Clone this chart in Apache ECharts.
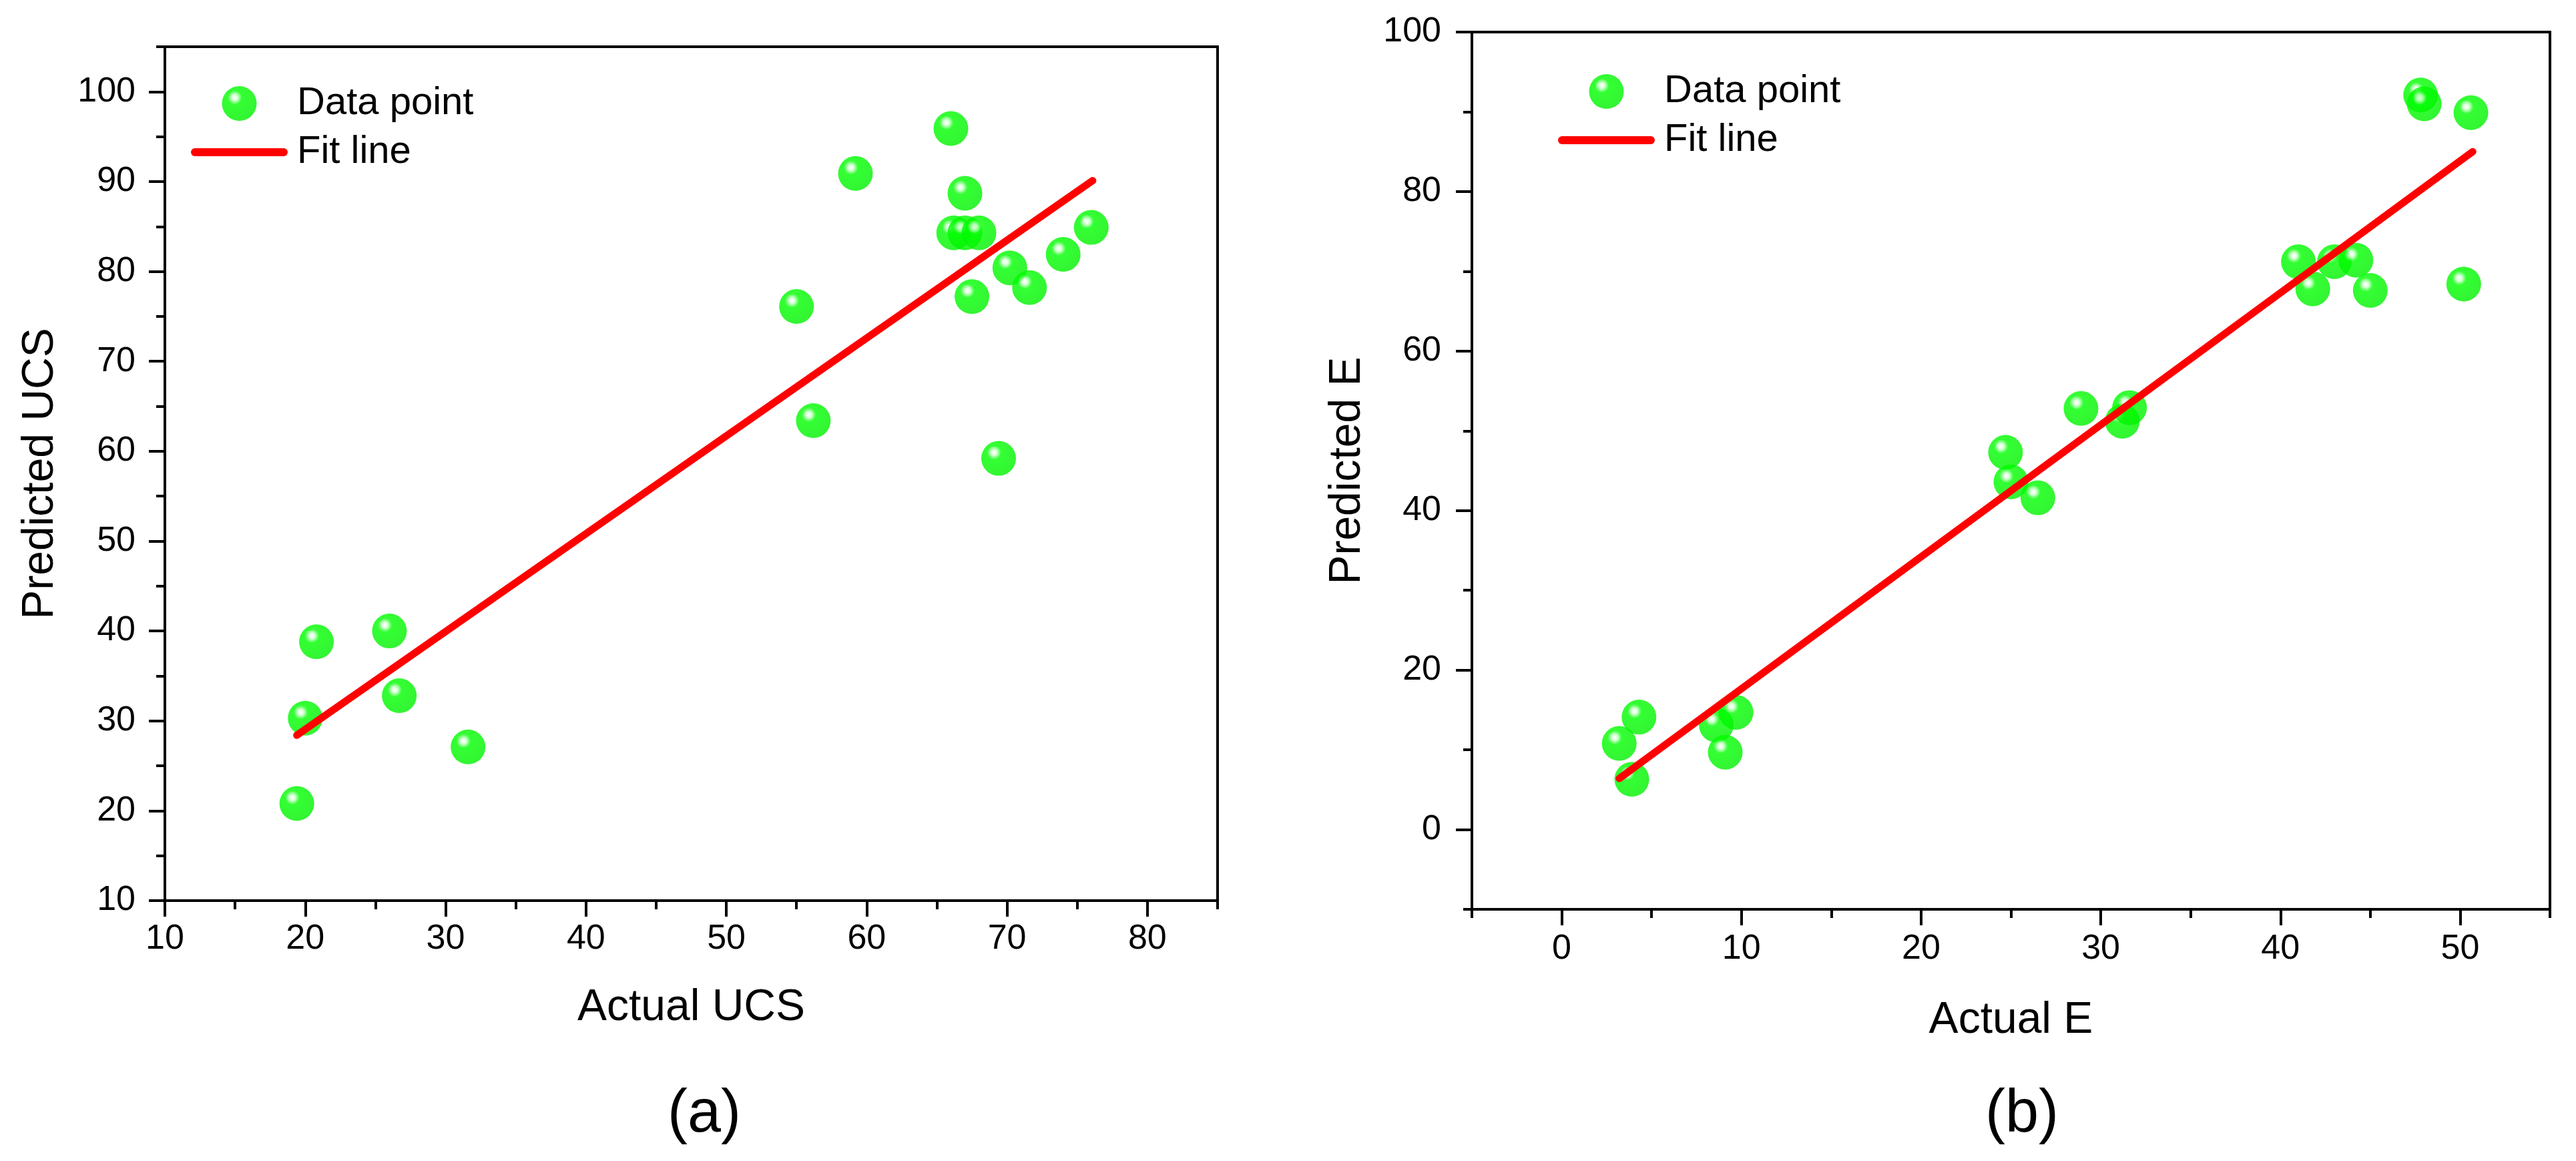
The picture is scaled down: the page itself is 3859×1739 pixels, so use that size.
<!DOCTYPE html>
<html>
<head>
<meta charset="utf-8">
<script src="https://cdn.jsdelivr.net/npm/echarts@6/dist/echarts.min.js"></script>
<style>
  html, body { margin: 0; padding: 0; background: #fff; }
  #chart { width: 3859px; height: 1739px; }
</style>
</head>
<body>
<div id="chart"></div>
<script>
// (a) UCS
const ucsActual    = [19.4, 20.0, 20.8, 26.0, 26.7, 31.6, 55.0, 56.2, 59.2, 66.0, 67.0, 66.2, 67.0, 68.0, 67.5, 69.4, 70.2, 71.6, 74.0, 76.0];
const ucsPredicted = [20.8, 30.3, 38.8, 40.0, 32.8, 27.1, 76.1, 63.4, 90.9, 95.9, 88.7, 84.3, 84.3, 84.3, 77.2, 59.2, 80.4, 78.2, 81.9, 84.9];
const ucsFitX = [19.4, 76.1];
const ucsFitY = [28.4, 90.1];

// (b) E
const eActual    = [3.2, 3.9, 4.3, 8.6, 9.1, 9.7, 24.7, 25.0, 26.5, 28.9, 31.2, 31.6, 41.0, 41.8, 43.0, 44.2, 45.0, 47.8, 48.0, 50.6, 50.2];
const ePredicted = [10.8, 6.3, 14.1, 13.1, 9.7, 14.7, 47.3, 43.6, 41.6, 52.8, 51.2, 52.9, 71.2, 67.8, 71.2, 71.4, 67.6, 92.1, 91.0, 89.9, 68.4];
const eFitX = [3.2, 50.7];
const eFitY = [6.4, 85.0];

// tick labels
const ucsXTicks = [10, 20, 30, 40, 50, 60, 70, 80];
const ucsYTicks = [10, 20, 30, 40, 50, 60, 70, 80, 90, 100];
const eXTicks = [0, 10, 20, 30, 40, 50];
const eYTicks = [0, 20, 40, 60, 80, 100];

const FONT = 'Liberation Sans, Arial, Helvetica, sans-serif';
const chart = echarts.init(document.getElementById('chart'));

const ball = new echarts.graphic.RadialGradient(0.37, 0.33, 0.68, [
  { offset: 0, color: '#ffffff' },
  { offset: 0.12, color: '#d0ffd0' },
  { offset: 0.3, color: '#00ff00' },
  { offset: 1, color: '#00f200' }
]);

// thick round-capped bar for the fit-line legend entry
const lineIcon = 'path://M6,0L139,0A6,6,0,0,1,139,12L6,12A6,6,0,0,1,6,0Z';

const pairs = (xs, ys) => xs.map((x, i) => [x, ys[i]]);

// two stacked axes per side: one draws the line + short minor ticks,
// the other only the long major ticks and the labels
function axisPair(dim, gridIndex, min, max, step, majors, margin, name, nameGap) {
  const position = dim === 'x' ? 'bottom' : 'left';
  const base = { type: 'value', gridIndex, min, max, interval: step, position, offset: 0, splitLine: { show: false } };
  return [
    Object.assign({}, base, {
      name,
      nameLocation: 'middle',
      nameGap,
      nameTextStyle: { fontFamily: FONT, fontSize: 66, color: '#000' },
      axisLine: { show: true, onZero: false, lineStyle: { color: '#000', width: 4 } },
      axisTick: { show: true, inside: false, length: 13, lineStyle: { color: '#000', width: 4 } },
      axisLabel: { show: false }
    }),
    Object.assign({}, base, {
      axisLine: { show: false, onZero: false },
      axisTick: { show: true, inside: false, length: 24, customValues: majors, lineStyle: { color: '#000', width: 4 } },
      axisLabel: { show: true, customValues: majors, margin, fontFamily: FONT, fontSize: 52, color: '#000' }
    })
  ];
}

const xAxes = [].concat(
  axisPair('x', 0, 10, 85, 5, ucsXTicks, 32, 'Actual UCS', 128),
  axisPair('x', 1, -5, 55, 5, eXTicks, 34, 'Actual E', 134)
);
const yAxes = [].concat(
  axisPair('y', 0, 10, 105, 5, ucsYTicks, 44, 'Predicted UCS', 153),
  axisPair('y', 1, -10, 100, 10, eYTicks, 46, 'Predicted E', 153)
);

const legendStyle = {
  orient: 'vertical',
  padding: 0,
  itemWidth: 145,
  itemHeight: 52,
  itemGap: 15,
  textStyle: { fontFamily: FONT, fontSize: 58, color: '#000', padding: [0, 0, 0, 9] },
  data: [
    { name: 'Data point' },
    { name: 'Fit line', icon: lineIcon, itemStyle: { color: '#ff0000' } }
  ]
};

chart.setOption({
  animation: false,
  backgroundColor: '#fff',
  grid: [
    { left: 247, top: 70, width: 1577, height: 1279, show: true, borderColor: '#000', borderWidth: 4 },
    { left: 2205, top: 48, width: 1615, height: 1314, show: true, borderColor: '#000', borderWidth: 4 }
  ],
  xAxis: xAxes,
  yAxis: yAxes,
  legend: [
    Object.assign({ left: 286, top: 126 }, legendStyle),
    Object.assign({ left: 2334, top: 108 }, legendStyle)
  ],
  series: [
    {
      name: 'Data point', type: 'scatter', xAxisIndex: 0, yAxisIndex: 0,
      symbolSize: 52, itemStyle: { color: ball },
      data: pairs(ucsActual, ucsPredicted)
    },
    {
      name: 'Fit line', type: 'line', xAxisIndex: 0, yAxisIndex: 0,
      showSymbol: false, symbol: 'none',
      lineStyle: { color: '#ff0000', width: 11, cap: 'round' },
      itemStyle: { color: '#ff0000' },
      data: pairs(ucsFitX, ucsFitY)
    },
    {
      name: 'Data point', type: 'scatter', xAxisIndex: 2, yAxisIndex: 2,
      symbolSize: 52, itemStyle: { color: ball },
      data: pairs(eActual, ePredicted)
    },
    {
      name: 'Fit line', type: 'line', xAxisIndex: 2, yAxisIndex: 2,
      showSymbol: false, symbol: 'none',
      lineStyle: { color: '#ff0000', width: 11, cap: 'round' },
      itemStyle: { color: '#ff0000' },
      data: pairs(eFitX, eFitY)
    }
  ],
  graphic: [
    { type: 'text', left: 1000, top: 1625, style: { text: '(a)', font: '90px ' + FONT, fill: '#000' } },
    { type: 'text', left: 2974, top: 1625, style: { text: '(b)', font: '90px ' + FONT, fill: '#000' } }
  ]
});
</script>
</body>
</html>
